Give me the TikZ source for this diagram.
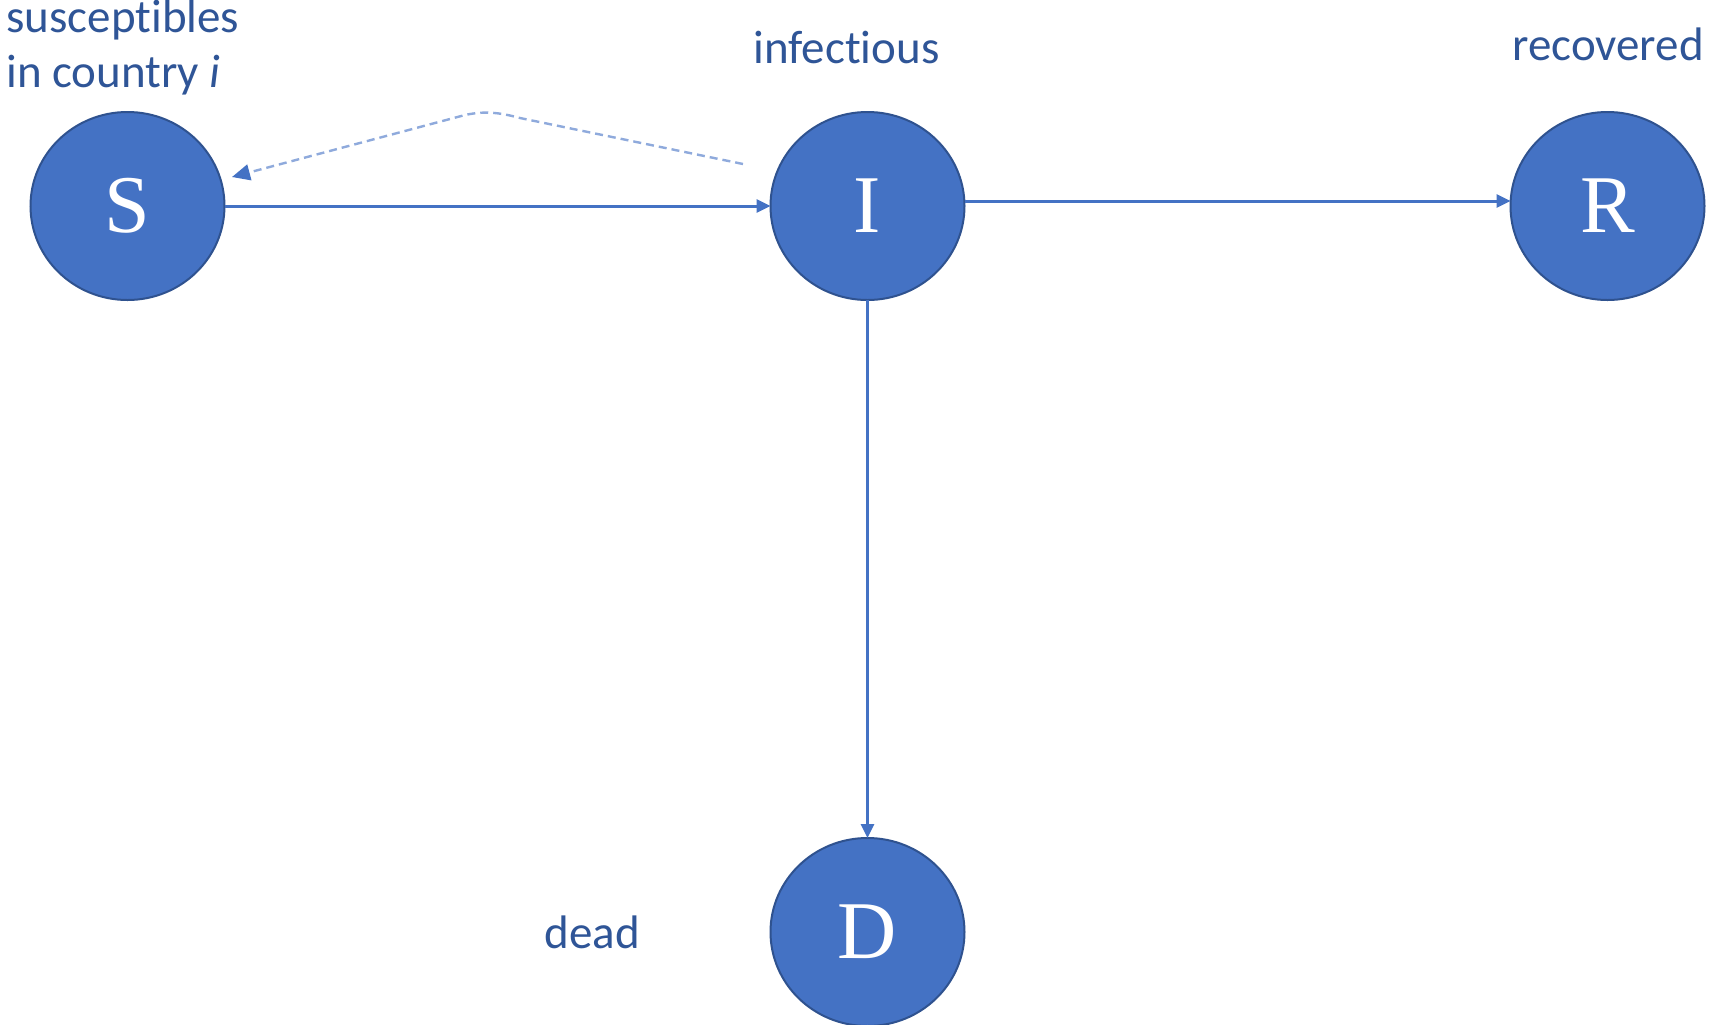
\documentclass[tikz,border=0pt]{standalone}
\usepackage{fontspec}
\setmainfont[Ligatures={CommonOff,ContextualOff},Contextuals=AlternateOff]{Carlito}
\newfontfamily\nodefont{Liberation Serif}
\usetikzlibrary{shapes.geometric,arrows.meta,calc}
\definecolor{fillblue}{HTML}{4472C4}
\definecolor{edgeblue}{HTML}{2F528F}
\definecolor{txtblue}{HTML}{2F5597}
\definecolor{dashblue}{HTML}{8FAADC}
\begin{document}
\begin{tikzpicture}[x=0.5pt,y=-0.5pt,
 comp/.style={ellipse, fill=fillblue, draw=edgeblue, line width=1pt, minimum width=97pt, minimum height=94pt, inner sep=0pt, outer sep=0pt, text=white, font=\nodefont\fontsize{41}{41}\selectfont},
 lab/.style={text=txtblue, font=\fontsize{23.5}{25}\selectfont, inner sep=0pt, anchor=base west},
 flow/.style={draw=fillblue, line width=1.5pt, -{Triangle[length=7pt,width=6.5pt]}},
 back/.style={draw=dashblue, line width=1.2pt, dash pattern=on 4pt off 2.5pt, -{Triangle[length=9pt,width=8pt,color=fillblue]}}]
\useasboundingbox (0,0) rectangle (1709,1024);
\clip (0,0) rectangle (1709,1024);
\fill[white] (0,0) rectangle (1709,1024);

\node[comp] (S) at (127.5,206) {S};
\node[comp] (I) at (867.5,206) {I};
\node[comp] (R) at (1607.5,206) {R};
\node[comp] (D) at (867.5,932) {D};

\node[lab] (lS1) at (6,32) {susceptibles};
\node[lab] (lS2) at (6,87) {in country \textit{i}};
\node[lab] (lI) at (753,63) {infectious};
\node[lab] (lR) at (1512,60) {recovered};
\node[lab] (lD) at (544,948) {dead};

\draw[flow] (S.east) -- (I.west);
\draw[flow] ($(I.east)+(0,-5)$) -- ($(R.west)+(0,-5)$);
\draw[flow] (I.south) -- (D.north);

\coordinate (ds) at (743,164);
\coordinate (de) at (232,177);
\draw[back] (ds) -- (520,118) .. controls (498,112) and (484,111) .. (465,115) -- (de);
\end{tikzpicture}
\end{document}
